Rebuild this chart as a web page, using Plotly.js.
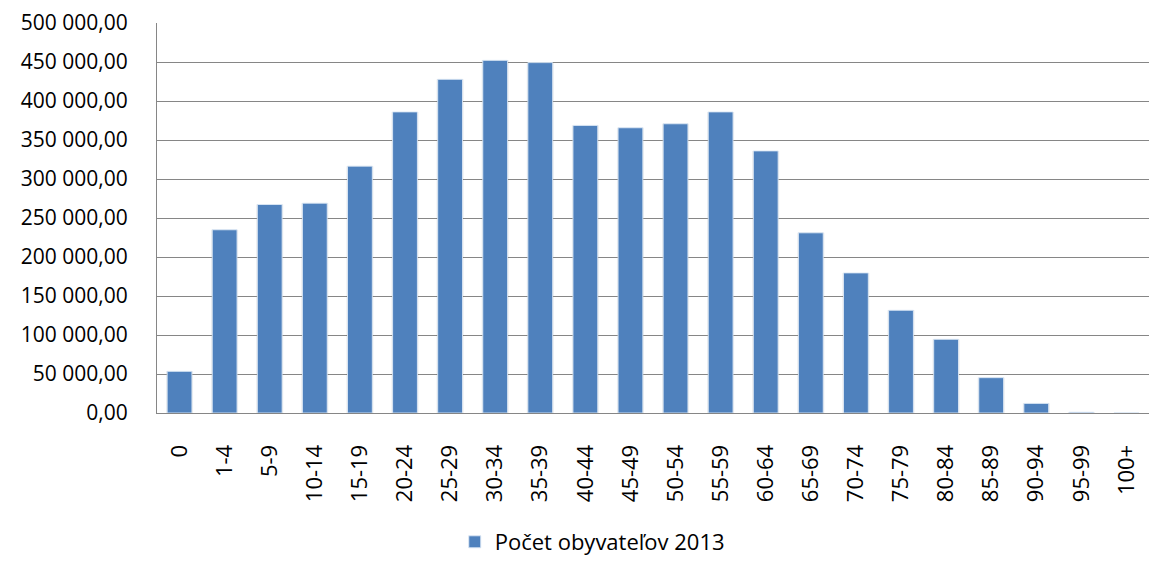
<!DOCTYPE html>
<html>
<head>
<meta charset="utf-8">
<script src="https://cdn.plot.ly/plotly-3.0.1.min.js"></script>
<style>html,body{margin:0;padding:0;background:#fff;}#chart{width:1150px;height:563px;}</style>
</head>
<body>
<div id="chart"></div>
<script>
var categories = ["0","1-4","5-9","10-14","15-19","20-24","25-29","30-34","35-39","40-44","45-49","50-54","55-59","60-64","65-69","70-74","75-79","80-84","85-89","90-94","95-99","100+"];
var population2013 = [53400,234900,267300,269000,316500,386000,427800,452100,449200,368700,365700,370800,386000,336000,231000,179600,131700,94500,45300,12300,1000,100];
var yTicks = [0,50000,100000,150000,200000,250000,300000,350000,400000,450000,500000];
var seriesName = "Počet obyvateľov 2013";

var font = "'Open Sans', 'Noto Sans', sans-serif";

var shadow = {
  type: "bar", x: categories, y: population2013, width: 0.6,
  marker: {color: "rgba(0,0,0,0.07)", line: {width: 0}},
  showlegend: false, hoverinfo: "skip"
};
var bars = {
  type: "bar", x: categories, y: population2013, name: seriesName, width: 0.55,
  marker: {color: "#4F81BD", line: {color: "rgba(220,232,245,0.9)", width: 1}}
};

var layout = {
  width: 1150, height: 563,
  margin: {l: 157, r: 1, t: 23, b: 150},
  paper_bgcolor: "#ffffff", plot_bgcolor: "#ffffff",
  separators: ", ",
  barmode: "overlay",
  font: {family: font, size: 21, color: "#000"},
  xaxis: {
    type: "category",
    tickangle: -90,
    tickfont: {family: font, size: 22, color: "#000"},
    showline: true, linecolor: "#868686", linewidth: 1,
    ticks: "", ticklabelstandoff: 22,
    showgrid: false, mirror: false
  },
  yaxis: {
    range: [0, 500000],
    tickvals: yTicks,
    tickformat: ",.2f",
    tickfont: {family: font, size: 21, color: "#000"},
    showline: true, linecolor: "#868686", linewidth: 1,
    gridcolor: "#868686", gridwidth: 1,
    ticks: "", ticklabelstandoff: 24,
    zeroline: false
  },
  showlegend: true,
  legend: {
    orientation: "h",
    xref: "container", yref: "container",
    x: 0.515, xanchor: "center", y: 0.0, yanchor: "bottom",
    font: {family: font, size: 22, color: "#000"},
    itemwidth: 30
  }
};

Plotly.newPlot("chart", [shadow, bars], layout, {displayModeBar: false, staticPlot: true});
</script>
</body>
</html>
